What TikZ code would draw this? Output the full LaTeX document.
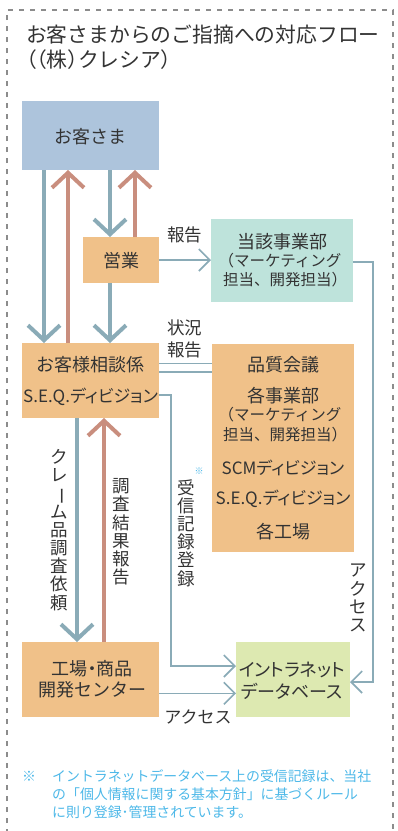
\documentclass[tikz,border=0pt]{standalone}
\usepackage{fontspec}
\setmainfont{Noto Sans CJK JP}
\newfontfamily\pal[RawFeature=+palt]{Noto Sans CJK JP}
\usepackage{graphicx}
\usetikzlibrary{arrows.meta}
\definecolor{ink}{HTML}{333333}
\definecolor{cblue}{HTML}{ADC4DC}
\definecolor{corange}{HTML}{F0C189}
\definecolor{cteal}{HTML}{BEE3DB}
\definecolor{cgreen}{HTML}{DDE9B1}
\definecolor{abl}{HTML}{8AABB7}
\definecolor{ard}{HTML}{C98E7E}
\definecolor{note}{HTML}{4DB8E8}
\definecolor{framec}{HTML}{8C8C8C}
\newcommand{\vbar}{\rotatebox[origin=c]{-90}{ー}}
\begin{document}
\lineskiplimit=-50pt
\begin{tikzpicture}[x=1pt,y=-1pt,
  box/.style={inner sep=0pt, outer sep=0pt, draw=none},
  tx/.style={inner sep=0pt, text=ink, font=\fontsize{18}{20}\selectfont},
  seq/.style={inner sep=0pt, text=ink, font=\pal\fontsize{17}{20}\selectfont},
  sub/.style={inner sep=0pt, text=ink, font=\fontsize{15.5}{18}\selectfont},
  vtx/.style={inner sep=0pt, text=ink, align=center, font=\fontsize{17.5}{18.2}\selectfont},
  thk/.style={line width=4pt, -{Straight Barb[length=15pt,width=32pt]}},
  con/.style={draw=abl, line width=1.6pt},
  cona/.style={con, -{Straight Barb[length=11pt,width=22pt]}},
]
\useasboundingbox (0,0) rectangle (398,831);
\draw[framec, line width=1.3pt, dash pattern=on 5pt off 6pt] (7,845) -- (7,10) -- (393,10) -- (393,845);

% title
\node[anchor=west, inner sep=0pt, text=ink, align=left, font=\fontsize{20.8}{25}\selectfont] (title) at (26,47.5)
  {お客さまからのご指摘への対応フロー\\{\pal （（}株{\pal ）}クレシア{\pal ）}};

% boxes
\node[box, fill=cblue, minimum width=137pt, minimum height=69pt] (kyaku) at (90.5,135.5) {};
\node[box, fill=corange, minimum width=76pt, minimum height=46pt] (eigyo) at (121,260) {};
\node[box, fill=cteal, minimum width=142pt, minimum height=83pt] (toga) at (282,260.5) {};
\node[box, fill=corange, minimum width=137pt, minimum height=75pt] (sodan) at (90.5,380.5) {};
\node[box, fill=corange, minimum width=142pt, minimum height=208pt] (big) at (283,448) {};
\node[box, fill=corange, minimum width=137pt, minimum height=75pt] (kojo) at (90.5,679.5) {};
\node[box, fill=cgreen, minimum width=114pt, minimum height=75pt] (intra) at (293,679.5) {};

% box texts
\node[tx] (kyakut) at (90.5,137) {お客さま};
\node[tx] (eigyot) at (121,261) {営業};
\node[tx] (toga1) at (282,242) {当該事業部};
\node[sub] (toga2) at (280,261) {（マーケティング};
\node[sub] (toga3) at (285,280) {担当、開発担当）};
\node[tx] (sodan1) at (90.5,365) {お客様相談係};
\node[seq] (sodan2) at (90.5,397) {S.E.Q.ディビジョン};
\node[tx] (big1) at (283,365) {品質会議};
\node[tx] (big2) at (283,396) {各事業部};
\node[sub] (big3) at (280,415) {（マーケティング};
\node[sub] (big4) at (285,435) {担当、開発担当）};
\node[seq] (big5) at (283,468) {SCMディビジョン};
\node[seq] (big6) at (283,499) {S.E.Q.ディビジョン};
\node[tx] (big7) at (283,532) {各工場};
\node[tx] (kojo1) at (92,669) {工場{\pal ・}商品};
\node[tx] (kojo2) at (92,690) {開発センター};
\node[tx] (intra1) at (292,670) {\pal イントラネット};
\node[tx] (intra2) at (292,691) {\pal データベース};

% thick arrows
\draw[thk, abl] ([xshift=22pt]kyaku.south west) -- ([xshift=22pt]sodan.north west);
\draw[thk, ard] ([xshift=46pt]sodan.north west) -- ([xshift=46pt]kyaku.south west);
\draw[thk, abl] ([xshift=88pt]kyaku.south west) -- ([xshift=27pt]eigyo.north west);
\draw[thk, ard] ([xshift=52pt]eigyo.north west) -- ([xshift=113pt]kyaku.south west);
\draw[thk, abl] ([xshift=27pt]eigyo.south west) -- ([xshift=88pt]sodan.north west);
\draw[thk, abl] ([xshift=55pt]sodan.south west) -- ([xshift=55pt]kojo.north west);
\draw[thk, ard] ([xshift=82pt]kojo.north west) -- ([xshift=82pt]sodan.south west);

% thin connectors
\draw[cona] (eigyo.east) -- (eigyo.east -| toga.west);
\draw[cona] ([yshift=-1.5pt]toga.east) -- ++(20,0) |- ([yshift=-2.5pt]intra.east);
\draw[con] ([yshift=17.2pt]sodan.east) -- ([yshift=17.2pt]sodan.east -| big.west);
\draw[con] ([yshift=8.8pt]sodan.east) -- ([yshift=8.8pt]sodan.east -| big.west);
\draw[cona] ([yshift=-14.5pt]sodan.east) -- ++(12,0) |- ([yshift=13.5pt]intra.west);
\draw[cona] ([yshift=-13.8pt]kojo.east) -- ([yshift=-13.8pt]intra.west);

% labels
\node[tx, font=\fontsize{17.5}{20}\selectfont] (lb1) at (184.5,235) {報告};
\node[tx, align=center, font=\fontsize{17.5}{22}\selectfont] (lb2) at (184.5,339) {状況\\報告};
\node[tx, font=\fontsize{17}{20}\selectfont] (lb3) at (198,717) {アクセス};
\node[vtx] (v1) at (59,530) {ク\\レ\\{\vbar}\\ム\\品\\調\\査\\依\\頼};
\node[vtx] (v2) at (121,532) {調\\査\\結\\果\\報\\告};
\node[vtx] (v3) at (186,533) {受\\信\\記\\録\\登\\録};
\node[inner sep=0pt, text=note, font=\fontsize{9}{9}\selectfont] (ast) at (199,471) {※};
\node[vtx] (v4) at (358,598) {ア\\ク\\セ\\ス};

% footnote
\node[inner sep=0pt, text=note, font=\fontsize{13.9}{13.9}\selectfont] (fnm) at (29,776) {※};
\node[anchor=west, align=left, inner sep=0pt, text=note, font=\fontsize{13.9}{18.2}\selectfont] (fn) at (52,794)
  {イントラネットデータベース上の受信記録は、当社\\の「個人情報に関する基本方針」に基づくルール\\に則り登録･管理されています。};
\end{tikzpicture}
\end{document}
